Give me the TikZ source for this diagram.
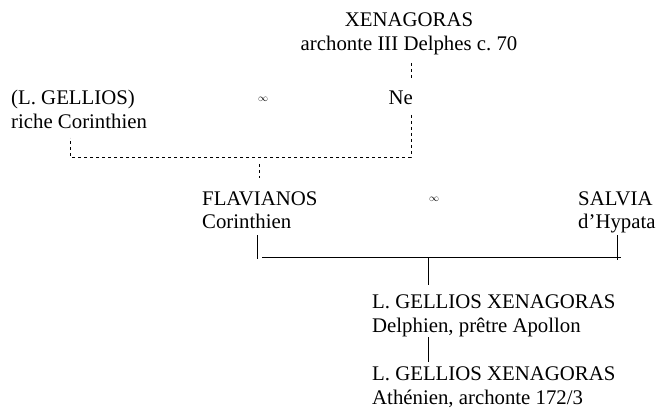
\documentclass[tikz,border=0pt]{standalone}
\usepackage{fontspec}
\setmainfont{Liberation Serif}
\tikzset{
  person/.style={anchor=base west,inner sep=0pt,align=left,font=\fontsize{20.8}{24}\selectfont},
  wed/.style={inner sep=0pt,font=\fontsize{10}{12}\selectfont},
  kin/.style={line width=0.8pt},
  kinguess/.style={line width=0.8pt,dash pattern=on 3pt off 3pt},
}
\begin{document}
\begin{tikzpicture}[x=1pt,y=-1pt,line cap=butt,line join=miter]
  \useasboundingbox (0,0) rectangle (659,409);
  \node[person,align=center,anchor=base] (xen) at (409,51) {XENAGORAS\\archonte III Delphes c.~70};
  \node[person,anchor=base east] (ne) at (413,105) {Ne};
  \node[person] (gel) at (11,129) {(L. GELLIOS)\\riche Corinthien};
  \node[wed] (wedA) at (263,99) {$\infty$};
  \node[person] (fla) at (202,229) {FLAVIANOS\\Corinthien};
  \node[wed] (wedB) at (434,199) {$\infty$};
  \node[person] (sal) at (578,229) {SALVIA\\d'Hypata};
  \node[person] (son) at (372,332) {L. GELLIOS XENAGORAS\\Delphien, prêtre Apollon};
  \node[person] (gson) at (372,404) {L. GELLIOS XENAGORAS\\Athénien, archonte 172/3};
  \coordinate (xenfoot) at (411,63);
  \coordinate (nehead) at (411,78);
  \coordinate (nefoot) at (411,115);
  \coordinate (gelfoot) at (70,138);
  \coordinate (flaroot) at (259,164);
  \coordinate (flahead) at (259,178);
  \coordinate (flafoot) at (257,235);
  \coordinate (salfoot) at (617,235);
  \coordinate (barleft) at (262,257);
  \coordinate (barright) at (621,257);
  \coordinate (sonhead) at (428,285);
  \coordinate (sonfoot) at (428,337);
  \coordinate (gsonhead) at (428,362);
  \draw[kinguess] (xenfoot) -- (nehead);
  \draw[kinguess] (nefoot) -- (411,157) -| (gelfoot);
  \draw[kinguess] (flaroot) -- (flahead);
  \draw[kin] (flafoot) -- ++(0,24);
  \draw[kin] (salfoot) -- ++(0,25);
  \draw[kin] (barleft) -- (barright);
  \draw[kin] (barleft -| sonhead) -- (sonhead);
  \draw[kin] (sonfoot) -- (gsonhead);
\end{tikzpicture}
\end{document}
